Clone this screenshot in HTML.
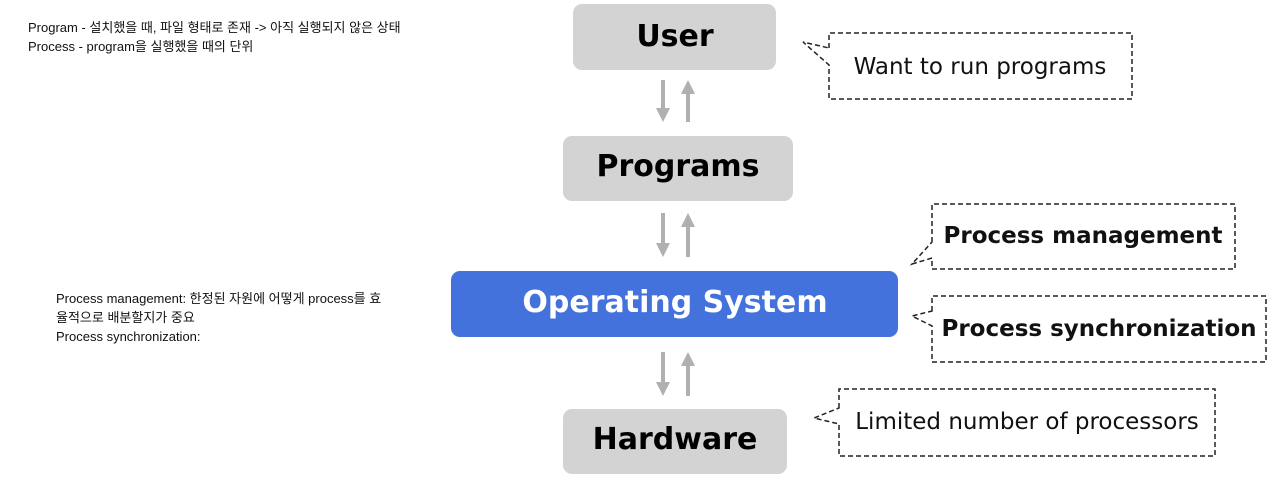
<!DOCTYPE html>
<html><head><meta charset="utf-8"><style>
body{margin:0;width:1280px;height:482px;background:#fff;overflow:hidden}
.k{position:absolute;font-family:"Liberation Sans","Noto Sans CJK KR",sans-serif;font-size:13px;line-height:19px;color:#111}
</style></head><body>
<div class="k" style="left:28px;top:18px">Program - 설치했을 때, 파일 형태로 존재 -&gt; 아직 실행되지 않은 상태<br>Process - program을 실행했을 때의 단위</div>
<div class="k" style="left:56px;top:289px">Process management: 한정된 자원에 어떻게 process를 효<br>율적으로 배분할지가 중요<br>Process synchronization:</div>
<svg width="1280" height="482" style="position:absolute;left:0;top:0" font-family="DejaVu Sans, Liberation Sans, sans-serif">
<g fill="#d3d3d3">
<rect x="573" y="4" width="203" height="66" rx="9"/>
<rect x="563" y="136" width="230" height="65" rx="9"/>
<rect x="563" y="409" width="224" height="65" rx="9"/>
</g>
<rect x="451" y="271" width="447" height="66" rx="9" fill="#4472dc"/>
<g font-weight="bold" text-anchor="middle" font-size="30">
<text x="675" y="46">User</text>
<text x="678" y="176">Programs</text>
<text x="675" y="449">Hardware</text>
<text x="675" y="312" fill="#fff">Operating System</text>
</g>
<g stroke="#b0b0b0" stroke-width="4" fill="#b0b0b0">
<line x1="663" y1="80" x2="663" y2="110"/><polygon points="656,108 670,108 663,122" stroke="none"/>
<line x1="688" y1="122" x2="688" y2="92"/><polygon points="681,94 695,94 688,80" stroke="none"/>
<line x1="663" y1="213" x2="663" y2="245"/><polygon points="656,243 670,243 663,257" stroke="none"/>
<line x1="688" y1="257" x2="688" y2="225"/><polygon points="681,227 695,227 688,213" stroke="none"/>
<line x1="663" y1="352" x2="663" y2="384"/><polygon points="656,382 670,382 663,396" stroke="none"/>
<line x1="688" y1="396" x2="688" y2="364"/><polygon points="681,366 695,366 688,352" stroke="none"/>
</g>
<g fill="none" stroke="#222" stroke-width="1.5" stroke-dasharray="5,3">
<path d="M829 48 L829 33 L1132 33 L1132 99 L829 99 L829 65 L803 42 Z"/>
<path d="M932 242 L932 204 L1235 204 L1235 269 L932 269 L932 258 L912 264 Z"/>
<path d="M932 311 L932 296 L1266 296 L1266 362 L932 362 L932 326 L912 316 Z"/>
<path d="M839 408 L839 389 L1215 389 L1215 456 L839 456 L839 424 L814 418 Z"/>
</g>
<g font-size="23" fill="#111">
<text x="980" y="74" text-anchor="middle">Want to run programs</text>
<text x="1027" y="429" text-anchor="middle">Limited number of processors</text>
</g>
<g font-size="23" font-weight="bold" fill="#111">
<text x="1083" y="243" text-anchor="middle">Process management</text>
<text x="1099" y="336" text-anchor="middle">Process synchronization</text>
</g>
</svg>
</body></html>
